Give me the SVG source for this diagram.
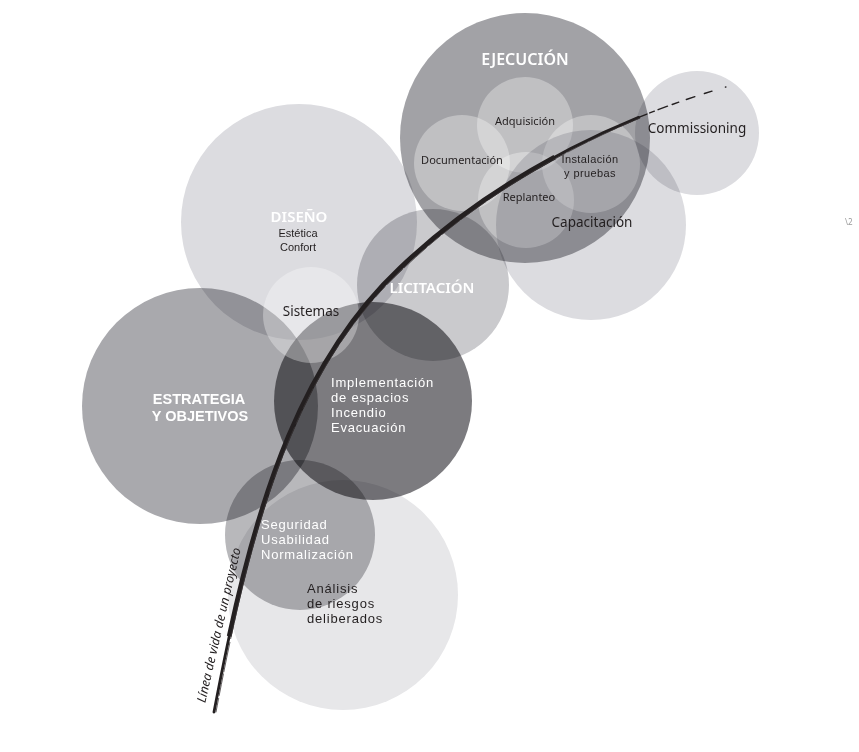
<svg xmlns="http://www.w3.org/2000/svg" width="859" height="752" viewBox="0 0 859 752">
<style>
.c{mix-blend-mode:multiply}
.w{fill:#ffffff;fill-opacity:0.32}
text{font-family:"Noto Sans","Liberation Sans",sans-serif;fill:#231f20}
.l{font-family:"Liberation Sans","Noto Sans",sans-serif}
.t{fill:#ffffff;font-weight:600;text-anchor:middle}
.s{font-size:11px;text-anchor:middle}
.m{font-size:13.5px}
.n{font-size:13px;letter-spacing:0.8px}
.wt{fill:#ffffff}
</style>
<rect width="859" height="752" fill="#ffffff"/>
<g style="isolation:isolate">
<g id="ejecucion"><circle class="c" cx="525" cy="138" r="125" fill="#a2a2a6"/></g>
<g id="adquisicion"><circle class="w" cx="525" cy="125" r="48"/></g>
<g id="documentacion"><circle class="w" cx="462" cy="163" r="48"/></g>
<g id="instalacion"><circle class="w" cx="591" cy="164" r="49"/></g>
<g id="replanteo"><circle class="w" cx="526" cy="200" r="48"/></g>
<g id="capacitacion"><circle class="c" cx="591" cy="225" r="95" fill="#dcdce0"/></g>
<g id="commissioning"><circle class="c" cx="697" cy="133" r="62" fill="#dcdce0"/></g>
<g id="diseno"><circle class="c" cx="299" cy="222" r="118" fill="#dcdce0"/></g>
<g id="licitacion"><circle class="c" cx="433" cy="285" r="76" fill="#cacacd"/></g>
<g id="estrategia"><circle class="c" cx="200" cy="406" r="118" fill="#a9a9ad"/></g>
<g id="implementacion"><circle class="c" cx="373" cy="401" r="99" fill="#7c7b7f"/></g>
<g id="sistemas"><circle class="w" cx="311" cy="315" r="48"/></g>
<g id="seguridad"><circle class="c" cx="300" cy="535" r="75" fill="#b8b8bb"/></g>
<g id="analisis"><circle class="c" cx="343" cy="595" r="115" fill="#e7e7e9"/></g>
</g>
<g id="connectors" fill="none" stroke="#231f20" stroke-linecap="round">
<path d="M214,712 C244,555 283,378 400,268 C463,207.8 545.6,155.4 638.6,117.4" stroke-width="2.8"/>
<path d="M214,712 C244,555 283,378 400,268 C463,207.8 545.6,155.4 638.6,117.4" pathLength="100" stroke-width="4.8" stroke-dasharray="0 10 78 200" stroke-linecap="butt"/>
<path d="M216,712 C246,555 285,378 402,270 C465,209 547,157 640,118" stroke-width="0.8" stroke="#3a3536" stroke-dasharray="14 3 22 2 30 4"/>
<path d="M638.6,117.4 C678.4,101.2 720.1,87.5 763,77" stroke-width="1.4" stroke-dasharray="9 3 5 4 10 5 7 8 9 10 8 14 0.5 200"/>
</g>
<g id="labels">
<text class="t" x="525" y="65" font-size="16">EJECUCIÓN</text>
<text class="s" x="525" y="125">Adquisición</text>
<text class="s" x="462" y="164">Documentación</text>
<text class="s l" x="590" y="163" letter-spacing="0.4">Instalación<tspan x="590" dy="14">y pruebas</tspan></text>
<text class="s" x="529" y="201">Replanteo</text>
<text class="m" x="592" y="227" text-anchor="middle" font-size="14">Capacitación</text>
<text class="m" x="697" y="133" text-anchor="middle" font-size="14">Commissioning</text>
<text class="t" x="299" y="222" font-size="15">DISEÑO</text>
<text class="s l" x="298" y="237">Estética<tspan x="298" dy="14">Confort</tspan></text>
<text class="t" x="432" y="293" font-size="15">LICITACIÓN</text>
<text class="m" x="311" y="316" text-anchor="middle">Sistemas</text>
<text class="t l" x="199" y="404" font-size="14.5" font-weight="700">ESTRATEGIA<tspan x="200" dy="17">Y OBJETIVOS</tspan></text>
<text class="n l wt" x="331" y="387">Implementación<tspan x="331" dy="15">de espacios</tspan><tspan x="331" dy="15">Incendio</tspan><tspan x="331" dy="15">Evacuación</tspan></text>
<text class="n l wt" x="261" y="529">Seguridad<tspan x="261" dy="15">Usabilidad</tspan><tspan x="261" dy="15">Normalización</tspan></text>
<text class="n l" x="307" y="593">Análisis<tspan x="307" dy="15">de riesgos</tspan><tspan x="307" dy="15">deliberados</tspan></text>
<text x="0" y="0" font-size="12.5" font-style="italic" text-anchor="middle" transform="translate(223,626) rotate(-77)">Línea de vida de un proyecto</text>
<text x="845" y="225" font-size="8" style="fill:#9a9a9a">\2</text>
</g>
</svg>
